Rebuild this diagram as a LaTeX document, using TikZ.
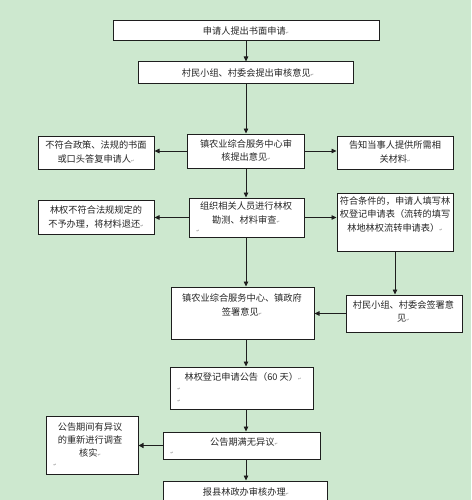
\documentclass[tikz,border=0pt]{standalone}
\usepackage{fontspec}
\newfontfamily\cjkf{Noto Sans CJK SC}
\newfontfamily\djvf{DejaVu Sans}
\usetikzlibrary{arrows.meta}
\definecolor{bgc}{HTML}{CDE8CF}
\definecolor{txc}{HTML}{262626}
\definecolor{lnc}{HTML}{1E1E1E}
\newcommand\pmk{{\djvf\fontsize{4}{4}\selectfont\textcolor{gray}{↵}}}
\begin{document}
\begin{tikzpicture}[x=1pt,y=-1pt,
  box/.style={draw=lnc, fill=white, line width=1pt, inner sep=0pt},
  txt/.style={font=\cjkf\fontsize{9.2}{13.2}\selectfont, text=txc, align=center, inner sep=0pt},
  mk/.style={inner sep=0pt},
  arr/.style={draw=lnc, line width=0.8pt, -{Triangle[length=5pt,width=4.5pt]}},
  thickarr/.style={draw=lnc, line width=1.6pt, -{Triangle[length=5pt,width=5pt]}}]
\fill[bgc] (0,0) rectangle (471,500);
\useasboundingbox (0,0) rectangle (471,500);
\clip (0,0) rectangle (471,500);
\coordinate (spine) at (246,0);
% boxes
\node[box, minimum width=266pt, minimum height=20pt] (b1) at (246,31) {};
\node[box, minimum width=215pt, minimum height=22pt] (b2) at (245.5,73) {};
\node[box, minimum width=117pt, minimum height=34pt] (b3) at (245.5,151) {};
\node[box, minimum width=116pt, minimum height=33pt] (l1) at (96,152.5) {};
\node[box, minimum width=116pt, minimum height=33pt] (r1) at (395,152.5) {};
\node[box, minimum width=115pt, minimum height=39pt] (b4) at (246.5,217.5) {};
\node[box, minimum width=116pt, minimum height=34pt] (l2) at (96,217) {};
\node[box, minimum width=116pt, minimum height=58pt] (r2) at (395,222) {};
\node[box, minimum width=143pt, minimum height=52pt] (b5) at (242.5,313) {};
\node[box, minimum width=116pt, minimum height=37pt] (r3) at (404,313.5) {};
\node[box, minimum width=143pt, minimum height=42pt] (b6) at (241.5,388) {};
\node[box, minimum width=157pt, minimum height=27pt] (b7) at (241.5,445.5) {};
\node[box, minimum width=92pt, minimum height=58pt] (l3) at (92,445) {};
\node[box, minimum width=164pt, minimum height=34pt] (b8) at (245,498) {};
% texts
\node[txt] (t1) at (246,31) {申请人提出书面申请\pmk};
\node[txt] (t2) at (248,72.5) {村民小组、村委会提出审核意见\pmk};
\node[txt] (t3) at (246,150.5) {镇农业综合服务中心审\\核提出意见\pmk};
\node[txt] (tl1) at (96,152) {不符合政策、法规的书面\\或口头答复申请人\pmk};
\node[txt] (tr1) at (395,152) {告知当事人提供所需相\\关材料\pmk};
\node[txt] (t4) at (246,213) {组织相关人员进行林权\\勘测、材料审查\pmk};
\node[mk] (m4) at (198,231) {\pmk};
\node[txt] (tl2) at (96,217) {林权不符合法规规定的\\不予办理，将材料退还\pmk};
\node[txt] (tr2) at (395,214.5) {符合条件的，申请人填写林\\权登记申请表（流转的填写\\林地林权流转申请表）\pmk};
\node[txt] (t5) at (242,305) {镇农业综合服务中心、镇政府\\签署意见\pmk};
\node[txt] (tr3) at (403.5,311.5) {村民小组、村委会签署意\\见\pmk};
\node[txt] (t6) at (243,377) {林权登记申请公告（60 天）\pmk};
\node[mk] (m6a) at (179,389) {\pmk};
\node[mk] (m6b) at (179,401) {\pmk};
\node[txt] (t7) at (244,442) {公告期满无异议\pmk};
\node[mk] (m7) at (172,453) {\pmk};
\node[txt] (tl3) at (90,440) {公告期间有异议\\的重新进行调查\\核实\pmk};
\node[mk] (ml3) at (55,465) {\pmk};
\node[txt] (t8) at (246,492) {报县林政办审核办理\pmk};
% connectors
\draw[arr] (b1.south -| spine) -- (b2.north -| spine);
\draw[arr] (b2.south -| spine) -- (b3.north -| spine);
\draw[arr] (b3.south -| spine) -- (b4.north -| spine);
\draw[arr] (b4.south -| spine) -- (b5.north -| spine);
\draw[arr] (b5.south -| spine) -- (b6.north -| spine);
\draw[arr] (b6.south -| spine) -- (b7.north -| spine);
\draw[arr] (b7.south -| spine) -- (b8.north -| spine);
\draw[arr] (b3.west) -- (b3.west -| l1.east);
\draw[arr] (b3.east) -- (b3.east -| r1.west);
\draw[arr] (b4.west) -- (b4.west -| l2.east);
\draw[arr] (b4.east) -- (b4.east -| r2.west);
\draw[arr] (r2.south) -- (r2.south |- r3.north);
\draw[arr] (r3.west) -- (r3.west -| b5.east);
\draw[thickarr] (b7.west) -- (b7.west -| l3.east);
\end{tikzpicture}
\end{document}
